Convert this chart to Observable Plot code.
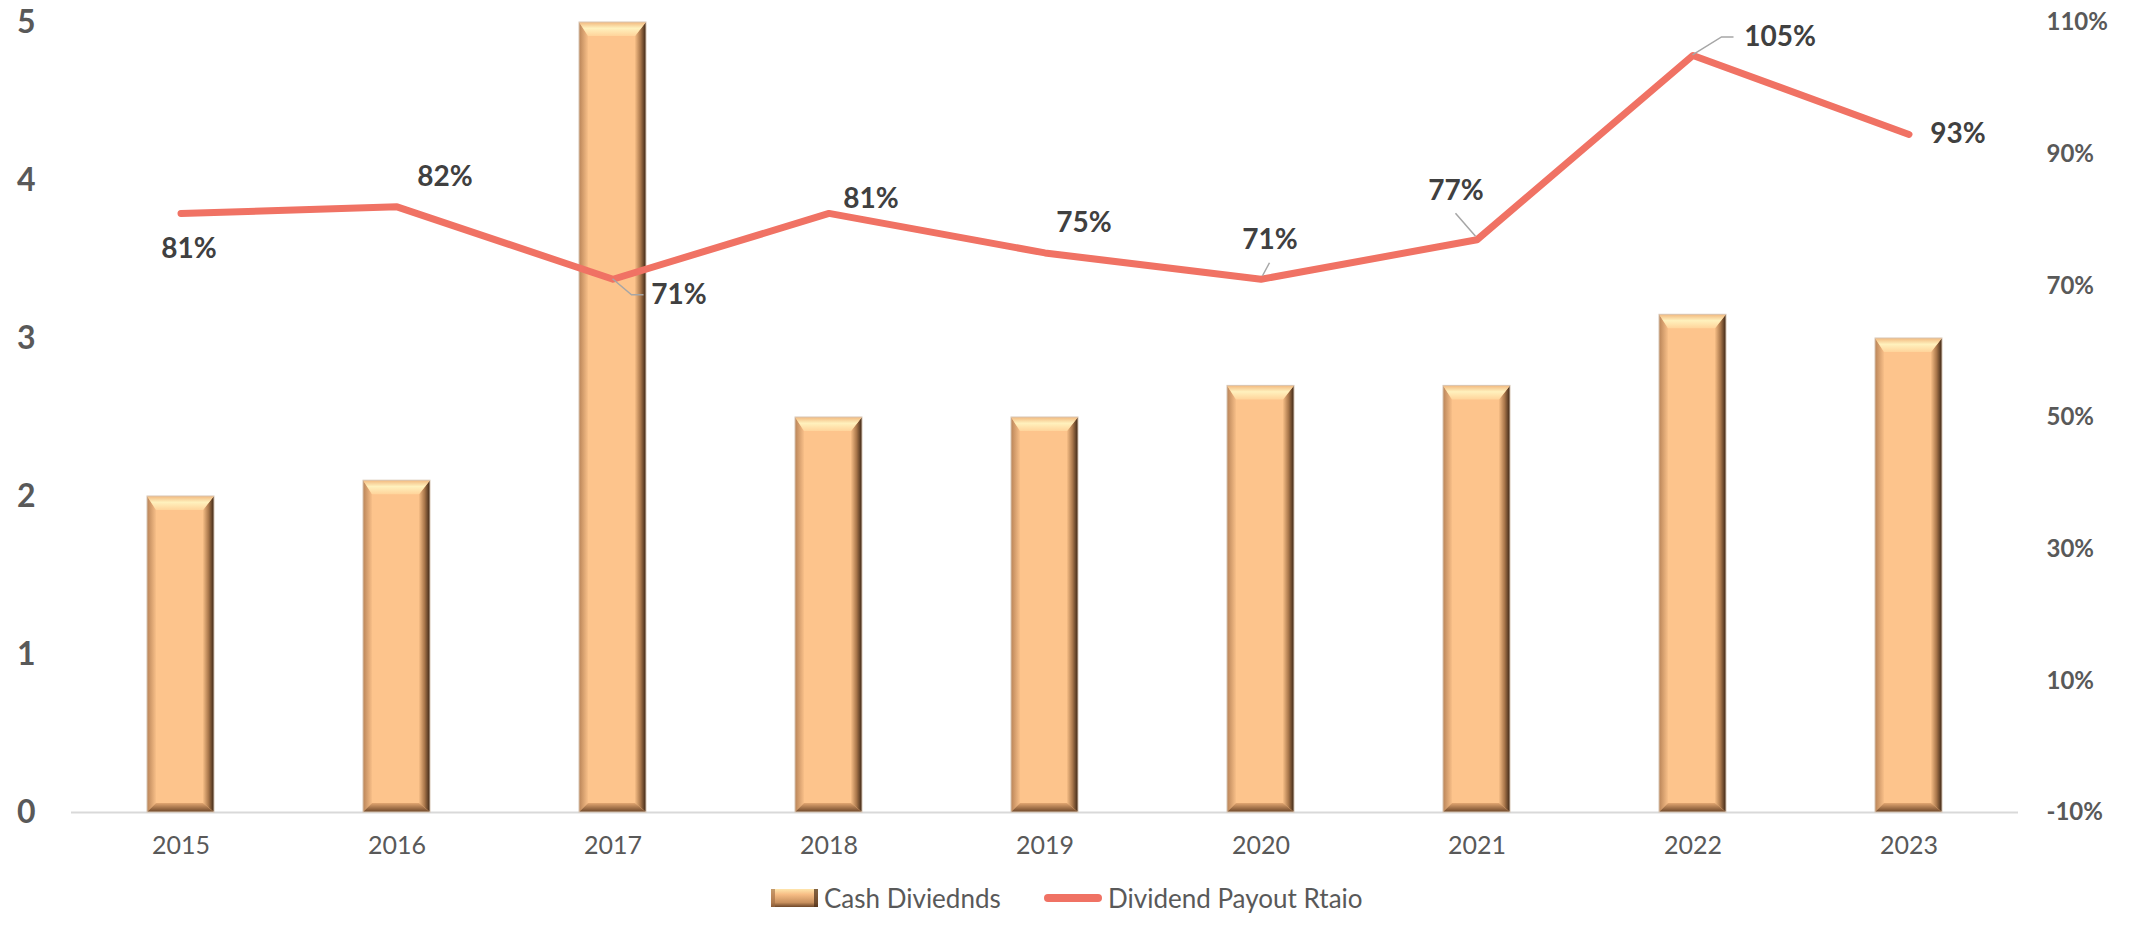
<!DOCTYPE html>
<html>
<head>
<meta charset="utf-8">
<script src="https://cdn.jsdelivr.net/npm/d3@7"></script>
<script src="https://cdn.jsdelivr.net/npm/@observablehq/plot@0.6"></script>
<style>
  html, body { margin: 0; padding: 0; background: #ffffff; }
  #chart { width: 2139px; height: 870px; }
  #legend { position: relative; width: 2139px; height: 55px; font-family: Lato, "Open Sans", sans-serif; font-size: 26px; color: #595959; }
  .item { position: absolute; top: 0; height: 55px; display: flex; align-items: center; }
  .item span { margin-left: 6px; }
</style>
</head>
<body>
<div id="chart"></div>
<div id="legend"></div>
<script>
// ---- data ----
const years = ["2015", "2016", "2017", "2018", "2019", "2020", "2021", "2022", "2023"];
const cashDividends = [2, 2.1, 5, 2.5, 2.5, 2.7, 2.7, 3.15, 3.0];
const payoutRatio = [81, 82, 71, 81, 75, 71, 77, 105, 93];
const leftTicks = [0, 1, 2, 3, 4, 5];
const rightTicks = [-10, 10, 30, 50, 70, 90, 110];
const seriesNames = ["Cash Diviednds", "Dividend Payout Rtaio"];

// ---- style / layout config ----
const labelOffsets = [[8, 36], [48, -30], [66, 16], [42, -14], [39, -30], [9, -39], [-21, -49], [87, -18], [49, 0]];
const leaders = {
  "2017": [[0, 0], [19, 16], [31, 16]],
  "2020": [[2, -3], [9, -16]],
  "2021": [[-1, -3], [-21, -26]],
  "2022": [[0, 0], [29, -18], [41, -18]]
};
const lineColor = "#F07264";
const barColor = "#FDC48C";
const font = "Lato, 'Open Sans', sans-serif";

// right-axis percentage mapped onto the left-axis value domain [0, 5]
const rightMin = rightTicks[0], rightMax = rightTicks[rightTicks.length - 1];
const leftMax = leftTicks[leftTicks.length - 1];
const toLeft = p => (p - rightMin) / (rightMax - rightMin) * leftMax;

const bars = years.map((year, i) => ({year, value: cashDividends[i]}));
const ratio = years.map((year, i) => ({year, pct: payoutRatio[i]}));

function bevelMark(index, scales) {
  const x = scales.x, y = scales.y;
  const bw = x.bandwidth();
  const g = d3.create("svg:g");
  const defs = g.append("defs");
  const grad = (id, vertical, stops) => {
    const lg = defs.append("linearGradient").attr("id", id)
      .attr("x1", 0).attr("y1", 0).attr("x2", vertical ? 0 : 1).attr("y2", vertical ? 1 : 0);
    stops.forEach(([o, c]) => lg.append("stop").attr("offset", o).attr("stop-color", c));
  };
  grad("bvTop", true, [[0, "#f2b87e"], [0.45, "#fff1bd"], [1, "#ffd49b"]]);
  grad("bvLeft", false, [[0, "#b98458"], [1, "#f8bf88"]]);
  grad("bvRight", false, [[0, "#f7be86"], [0.5, "#a9774b"], [1, "#3a2414"]]);
  grad("bvBottom", true, [[0, "#e2a671"], [1, "#6e4729"]]);
  const t = 14, l = 9, r = 11, b = 9;
  bars.forEach(d => {
    const x0 = x(d.year), x1 = x0 + bw;
    const y0 = y(d.value), y1 = y(0);
    const poly = (pts, fill) => g.append("polygon").attr("points", pts.map(p => p.join(",")).join(" ")).attr("fill", fill);
    poly([[x0, y0], [x0 + l, y0 + t], [x0 + l, y1 - b], [x0, y1]], "url(#bvLeft)");
    poly([[x1, y0], [x1, y1], [x1 - r, y1 - b], [x1 - r, y0 + t]], "url(#bvRight)");
    poly([[x0, y1], [x1, y1], [x1 - r, y1 - b], [x0 + l, y1 - b]], "url(#bvBottom)");
    poly([[x0, y0], [x1, y0], [x1 - r, y0 + t], [x0 + l, y0 + t]], "url(#bvTop)");
    g.append("rect").attr("x", x0).attr("y", y0).attr("width", bw).attr("height", y1 - y0)
      .attr("fill", "none").attr("stroke", "#d8c6b4").attr("stroke-width", 1);
  });
  return g.node();
}

function leaderMark(index, scales) {
  const x = scales.x, y = scales.y;
  const bw = x.bandwidth();
  const g = d3.create("svg:g").attr("fill", "none").attr("stroke", "#a6a6a6").attr("stroke-width", 1.5);
  ratio.forEach(d => {
    const pts = leaders[d.year];
    if (!pts) return;
    const cx = x(d.year) + bw / 2, cy = y(toLeft(d.pct));
    g.append("polyline").attr("points", pts.map(([dx, dy]) => `${cx + dx},${cy + dy}`).join(" "));
  });
  return g.node();
}

const labelMarks = ratio.map((d, i) => Plot.text([d], {
  x: "year", y: v => toLeft(v.pct), text: v => v.pct + "%",
  dx: labelOffsets[i][0], dy: labelOffsets[i][1],
  fontSize: 28, fontWeight: "bold", fontFamily: font, fill: "#404040", textAnchor: "middle"
}));

const chart = Plot.plot({
  width: 2139,
  height: 870,
  marginLeft: 71,
  marginRight: 121,
  marginTop: 22,
  marginBottom: 58,
  style: {background: "#ffffff", overflow: "visible"},
  x: {domain: years, paddingInner: 0.69, paddingOuter: 0.345, axis: null, label: null},
  y: {domain: [0, leftMax], axis: null, label: null},
  marks: [
    Plot.ruleY([0], {stroke: "#d9d9d9", strokeWidth: 2}),
    Plot.barY(bars, {x: "year", y: "value", fill: barColor}),
    bevelMark,
    Plot.axisX({tickSize: 0, tickPadding: 24, fontSize: 25, fontFamily: font, fill: "#595959", label: null}),
    Plot.axisY(leftTicks, {anchor: "left", tickSize: 0, tickPadding: 36, fontSize: 32, fontWeight: "bold", fontFamily: font, fill: "#595959", label: null,
      tickFormat: v => String(v)}),
    Plot.axisY(rightTicks.map(toLeft), {anchor: "right", tickSize: 0, tickPadding: 28, fontSize: 24, fontWeight: "bold", fontFamily: font, fill: "#595959", label: null,
      tickFormat: v => Math.round(v / leftMax * (rightMax - rightMin) + rightMin) + "%"}),
    Plot.line(ratio, {x: "year", y: d => toLeft(d.pct), stroke: lineColor, strokeWidth: 7, strokeLinecap: "round", strokeLinejoin: "round"}),
    leaderMark,
    ...labelMarks
  ]
});
document.getElementById("chart").appendChild(chart);

// ---- legend ----
const legend = d3.select("#legend");
const item1 = legend.append("div").attr("class", "item").style("left", "771px");
const sw1 = item1.append("svg").attr("width", 47).attr("height", 20);
const d1 = sw1.append("defs").append("linearGradient").attr("id", "lgBar").attr("x1", 0).attr("y1", 0).attr("x2", 0).attr("y2", 1);
[[0, "#ffe6ad"], [0.3, "#f7bd85"], [0.75, "#c8905e"], [1, "#6e4729"]].forEach(([o, c]) => d1.append("stop").attr("offset", o).attr("stop-color", c));
sw1.append("rect").attr("x", 0).attr("y", 1).attr("width", 47).attr("height", 18).attr("fill", "url(#lgBar)");
sw1.append("rect").attr("x", 0).attr("y", 1).attr("width", 4).attr("height", 18).attr("fill", "#9c6a42").attr("opacity", 0.6);
sw1.append("rect").attr("x", 43).attr("y", 1).attr("width", 4).attr("height", 18).attr("fill", "#4a2e18").attr("opacity", 0.7);
item1.append("span").text(seriesNames[0]);

const item2 = legend.append("div").attr("class", "item").style("left", "1044px");
const sw2 = item2.append("svg").attr("width", 58).attr("height", 20);
sw2.append("line").attr("x1", 4).attr("x2", 54).attr("y1", 10).attr("y2", 10).attr("stroke", lineColor).attr("stroke-width", 8).attr("stroke-linecap", "round");
item2.append("span").text(seriesNames[1]);
</script>
</body>
</html>
